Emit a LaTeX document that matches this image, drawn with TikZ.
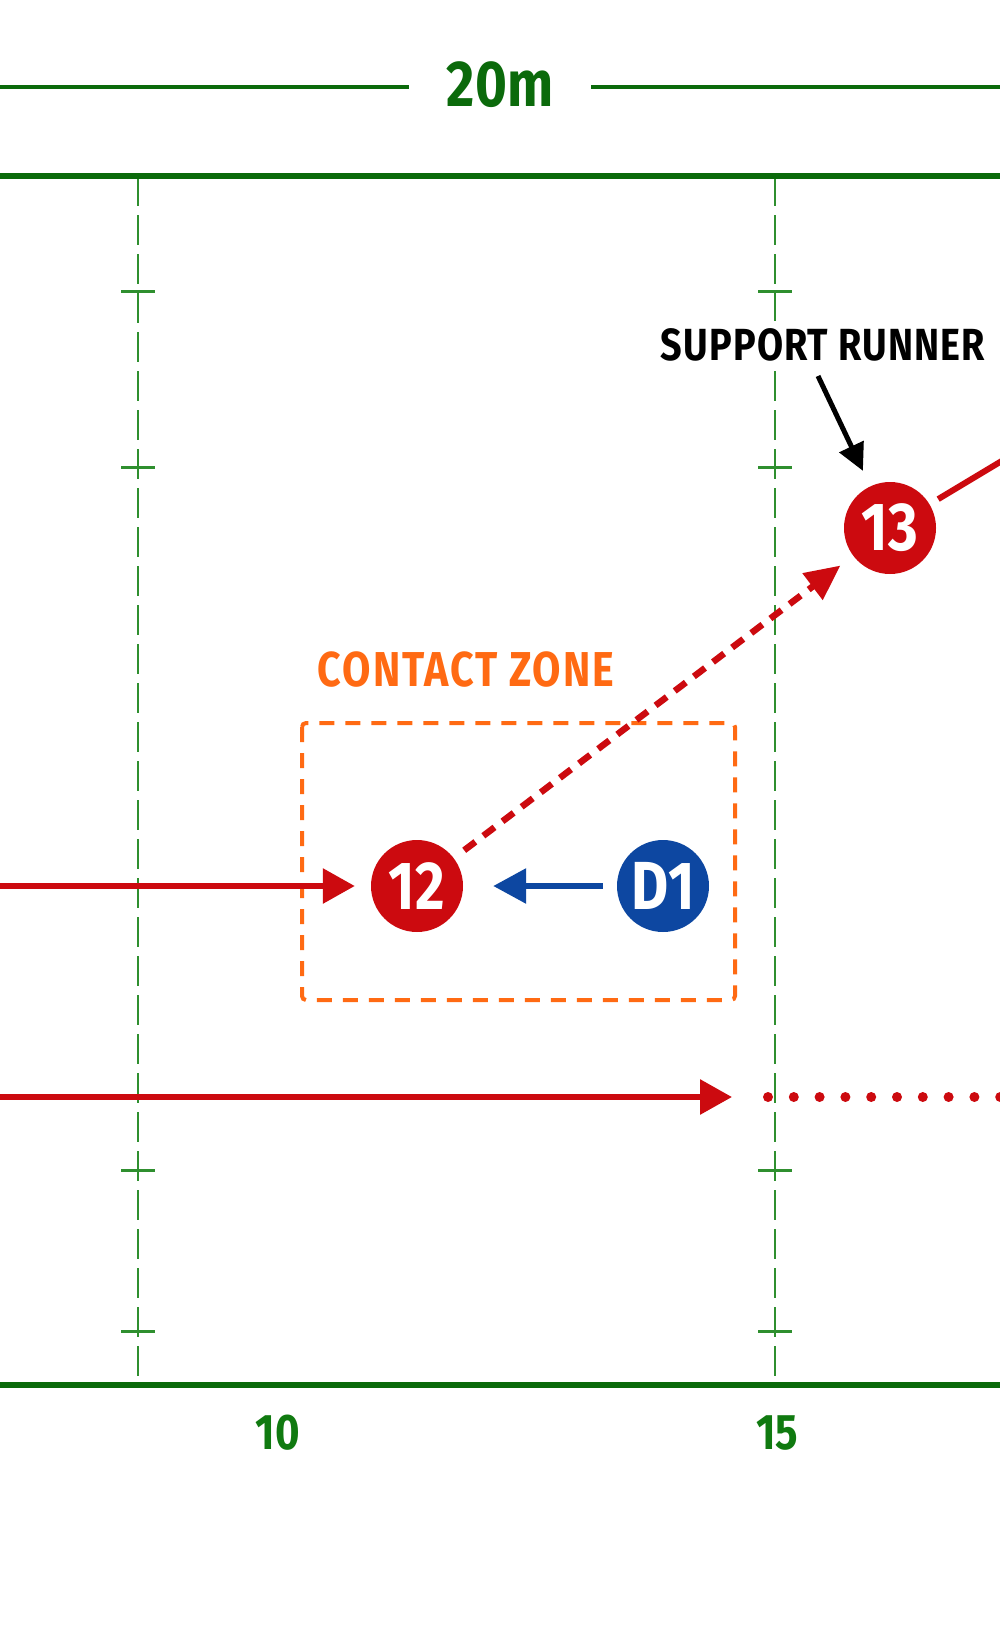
\documentclass[tikz,border=0pt]{standalone}
\usepackage{fontspec}
\setmainfont{Fira Sans}[FakeStretch=0.84]
\newfontfamily\spacedfont{Fira Sans}[FakeStretch=0.84, LetterSpace=4]
\newfontfamily\srfont{Fira Sans}[FakeStretch=0.84, LetterSpace=2.5]
\usetikzlibrary{arrows.meta}
\definecolor{rred}{HTML}{CC0A0F}
\definecolor{dblue}{HTML}{0D47A1}
\definecolor{zorange}{HTML}{FF6A13}
\definecolor{fdark}{HTML}{0B6A0B}
\definecolor{fthin}{HTML}{2F8F2F}
\definecolor{fnum}{HTML}{107A10}
\begin{document}
\begin{tikzpicture}[x=1pt,y=-1pt,
  fieldline/.style={draw=fdark, line width=6.5pt},
  yardline/.style={draw=fthin, line width=1.6pt, dash pattern=on 30pt off 9pt},
  ydtick/.style={draw=fthin, line width=3pt},
  player/.style={circle, minimum size=92pt, inner sep=0pt, text=white, font=\bfseries\fontsize{68}{68}\selectfont},
  attacker/.style={player, fill=rred},
  defender/.style={player, fill=dblue},
  runarrow/.style={draw=rred, line width=6pt, -{Triangle[length=32pt,width=34pt]}},
  defarrow/.style={draw=dblue, line width=6pt, -{Triangle[length=33pt,width=34pt]}},
  passarrow/.style={draw=rred, line width=6.5pt, dash pattern=on 14pt off 10pt, -{Triangle[length=35pt,width=32pt]}},
  callout/.style={draw=black, line width=5pt, -{Triangle[length=27pt,width=26pt]}},
  dimtext/.style={text=fdark, font=\bfseries\fontsize{65}{65}\selectfont, inner xsep=38pt, inner ysep=0pt},
  numtext/.style={text=fnum, font=\bfseries\fontsize{50}{50}\selectfont},
  zonebox/.style={draw=zorange, line width=4pt, dash pattern=on 15pt off 11pt, rounded corners=4pt}
]
\useasboundingbox (0,0) rectangle (1000,1632);
\clip (0,0) rectangle (1000,1632);
\fill[white] (0,0) rectangle (1000,1632);

% dimension line
\node[dimtext] (dim) at (500,85) {20m};
\coordinate (dimL) at (-5,87);
\coordinate (dimR) at (1005,87);
\draw[draw=fdark, line width=4pt] (dimL) -- (dim.west |- dimL);
\draw[draw=fdark, line width=4pt] (dim.east |- dimR) -- (dimR);

% yard lines and ticks
\foreach \x in {138,775} {
  \draw[yardline] (\x,176) -- (\x,1385);
  \foreach \y in {291,467,1170,1331} {
    \draw[ydtick] (\x-17,\y) -- (\x+17,\y);
  }
}
% field lines
\draw[fieldline] (-5,176) -- (1005,176);
\draw[fieldline] (-5,1385) -- (1005,1385);

% numbers
\node[numtext] (n10) at (278,1433) {10};
\node[numtext] (n15) at (777,1433) {15};

% contact zone
\draw[zonebox] (302,723) rectangle (735,1000);
\node[text=zorange, font=\spacedfont\bfseries\fontsize{49}{49}\selectfont] (cz) at (466,670) {CONTACT ZONE};

% players
\node[attacker] (p12) at (417,886) {12};
\node[defender] (d1) at (663,886) {D1};
\node[attacker] (p13) at (890,528) {13};

% support runner label
\node[fill=white, inner xsep=2pt, inner ysep=8pt, font=\srfont\bfseries\fontsize{45}{45}\selectfont] (sr) at (823,345) {SUPPORT RUNNER};
\coordinate (sr1) at (818,376);
\draw[callout, shorten >=17pt] (sr1) -- (p13);

% runs
\coordinate (l12) at (-5,886);
\draw[runarrow, shorten >=16pt] (l12) -- (p12);
\draw[defarrow, shorten <=14pt, shorten >=30pt] (d1) -- (p12);
\draw[passarrow, shorten <=13pt, shorten >=16pt] (p12) -- (p13);
\coordinate (r13) at (1010,456);
\draw[draw=rred, line width=6pt, shorten <=10pt] (p13) -- (r13);

% bottom run
\coordinate (b0) at (-5,1097);
\coordinate (b1) at (732,1097);
\coordinate (b2) at (768,1097);
\coordinate (b3) at (1010,1097);
\draw[runarrow] (b0) -- (b1);
\draw[draw=rred, line width=10pt, line cap=round, dash pattern=on 0pt off 25.8pt] (b2) -- (b3);
\end{tikzpicture}
\end{document}
